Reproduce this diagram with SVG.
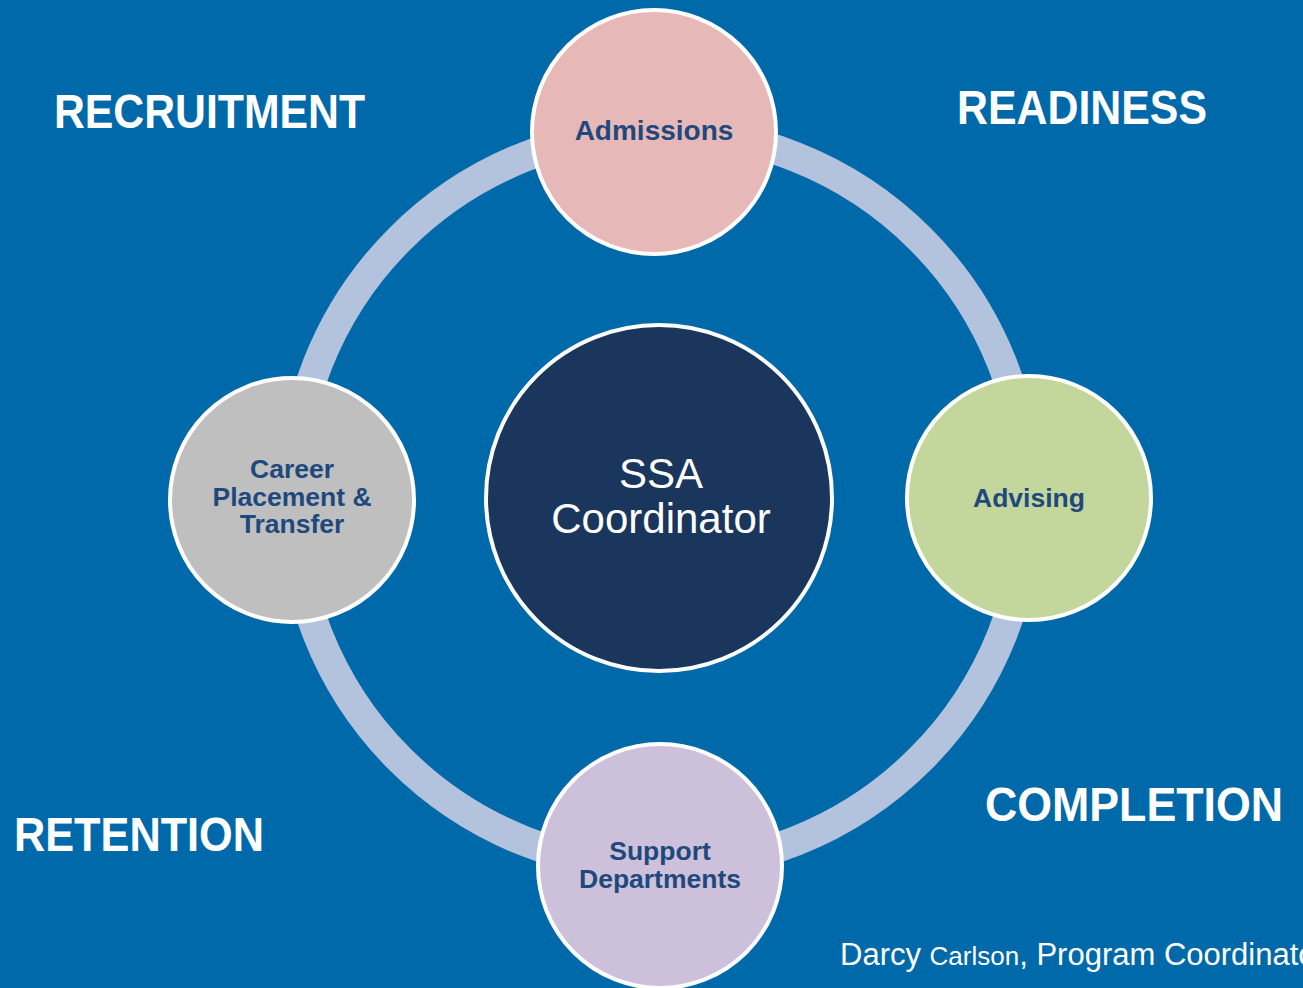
<svg xmlns="http://www.w3.org/2000/svg" width="1303" height="988" viewBox="0 0 1303 988">
<style>
.node{stroke:#FFFFFF;stroke-width:4}
.lbl{font-family:"Liberation Sans",Arial,sans-serif;font-weight:bold;font-size:26.5px;fill:#1F497D;text-anchor:middle}
.cat{font-family:"Liberation Sans",Arial,sans-serif;font-weight:bold;font-size:48px;fill:#FFFFFF}
.ctr{font-family:"Liberation Sans",Arial,sans-serif;font-size:42px;fill:#FFFFFF;text-anchor:middle}
.foot{font-family:"Liberation Sans",Arial,sans-serif;fill:#FFFFFF}
</style>
<rect x="0" y="0" width="1303" height="988" fill="#0069AA"/>
<g id="connectors">
<circle cx="660" cy="499" r="368" fill="none" stroke="#B3C3DE" stroke-width="30"/>
</g>
<g id="center">
<circle class="node" cx="659" cy="498" r="173" fill="#1A365D"/>
<text class="ctr" x="661" y="488">SSA</text>
<text class="ctr" x="661" y="533">Coordinator</text>
</g>
<g id="admissions">
<circle class="node" cx="654" cy="132" r="122" fill="#E6B8B7"/>
<text class="lbl" x="654" y="140" font-size="28" style="font-size:28px">Admissions</text>
</g>
<g id="career">
<circle class="node" cx="292" cy="500" r="122" fill="#BFBFBF"/>
<text class="lbl" x="292" y="478">Career</text>
<text class="lbl" x="292" y="506">Placement &amp;</text>
<text class="lbl" x="292" y="533">Transfer</text>
</g>
<g id="advising">
<circle class="node" cx="1029" cy="498" r="122" fill="#C3D69B"/>
<text class="lbl" x="1029" y="507">Advising</text>
</g>
<g id="support">
<circle class="node" cx="660" cy="866" r="122" fill="#CCC0DA"/>
<text class="lbl" x="660" y="860">Support</text>
<text class="lbl" x="660" y="888">Departments</text>
</g>
<g id="categories">
<text class="cat" x="54" y="128" textLength="311" lengthAdjust="spacingAndGlyphs">RECRUITMENT</text>
<text class="cat" x="957" y="124" textLength="250" lengthAdjust="spacingAndGlyphs">READINESS</text>
<text class="cat" x="14" y="851" textLength="250" lengthAdjust="spacingAndGlyphs">RETENTION</text>
<text class="cat" x="985" y="821" textLength="298" lengthAdjust="spacingAndGlyphs">COMPLETION</text>
</g>
<text class="foot" x="840" y="965" font-size="31">Darcy <tspan font-size="26">Carlson</tspan>, Program Coordinator</text>
</svg>
